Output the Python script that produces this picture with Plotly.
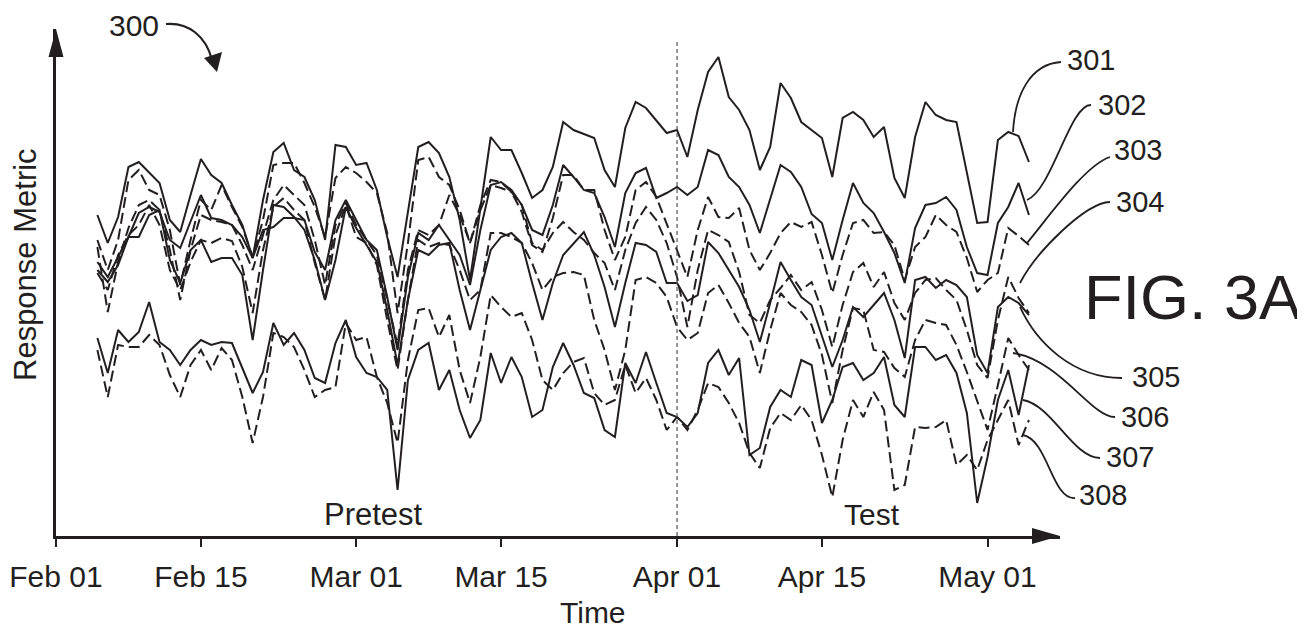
import plotly.graph_objects as go
import pandas as pd

# ---------------- data (screen-offset readings, larger = lower) -------------
dates = pd.date_range("2020-02-05", "2020-05-05", freq="D")  # 91 daily points

r301 = [215, 243, 217, 167, 162, 172, 183, 220, 232, 195, 159,
        175, 183, 205, 225, 258, 200, 152, 143, 170, 177, 200,
        240, 145, 147, 165, 163, 190, 237, 277, 210, 147, 142, 153,
        177, 220, 280, 210, 137, 150, 150, 173, 198, 190, 167,
        122, 130, 134, 138, 170, 187, 128, 102, 108, 120, 133, 130,
        157, 110, 72, 57, 97, 110, 130, 170, 147, 83, 98, 122,
        130, 138, 177, 118, 112, 120, 137, 127, 178, 198, 137, 102,
        115, 120, 122, 172, 223, 222, 140, 132, 136, 162]
r302 = [262, 277, 257, 237, 213, 207, 212, 240, 248, 222, 195,
        218, 220, 225, 237, 258, 230, 227, 218, 218, 220, 252,
        270, 220, 200, 220, 240, 250, 297, 350, 277, 233, 240, 225,
        240, 255, 285, 230, 185, 182, 190, 205, 230, 235, 205,
        165, 177, 190, 193, 217, 247, 193, 173, 168, 198, 193, 187,
        195, 187, 150, 155, 177, 187, 205, 233, 200, 165, 172, 187,
        214, 223, 260, 220, 183, 203, 213, 232, 253, 283, 228, 205,
        203, 197, 210, 247, 273, 275, 223, 207, 183, 215]
r303 = [240, 270, 240, 180, 170, 190, 195, 230, 285, 240, 200,
        210, 185, 207, 227, 257, 220, 165, 163, 163, 183, 207,
        237, 178, 167, 173, 182, 193, 233, 313, 243, 160, 157, 177,
        185, 210, 243, 205, 180, 182, 192, 212, 245, 252, 218,
        175, 175, 190, 190, 230, 260, 237, 190, 182, 197, 223, 250,
        277, 230, 197, 217, 218, 208, 250, 270, 253, 233, 222, 227,
        222, 255, 293, 255, 223, 220, 233, 232, 245, 280, 247, 237,
        215, 225, 232, 258, 292, 280, 273, 228, 236, 245]
r304 = [247, 312, 262, 228, 205, 200, 210, 250, 300, 250, 215,
        220, 222, 225, 245, 270, 235, 200, 185, 195, 205, 240,
        285, 225, 203, 225, 240, 255, 300, 345, 270, 230, 235, 225,
        195, 215, 243, 210, 185, 188, 192, 205, 243, 250, 233,
        222, 232, 240, 253, 263, 290, 250, 223, 207, 220, 243, 277,
        327, 270, 230, 235, 242, 272, 315, 323, 300, 288, 275, 290,
        282, 310, 347, 305, 272, 263, 287, 272, 303, 320, 293, 280,
        278, 290, 300, 330, 365, 378, 320, 277, 298, 313]
r305 = [270, 282, 265, 237, 237, 215, 210, 260, 283, 250, 240,
        262, 258, 258, 275, 340, 270, 205, 207, 217, 230, 260,
        300, 260, 207, 228, 245, 262, 310, 365, 300, 250, 255, 245,
        243, 290, 330, 290, 250, 237, 233, 243, 283, 320, 283,
        255, 243, 232, 255, 287, 327, 283, 243, 245, 252, 283, 283,
        301, 295, 242, 253, 270, 287, 310, 342, 303, 262, 280, 297,
        305, 335, 367, 340, 307, 317, 305, 293, 320, 358, 280, 277,
        288, 280, 285, 297, 355, 373, 307, 297, 303, 315]
r306 = [273, 290, 255, 235, 225, 205, 225, 270, 290, 262, 240,
        243, 238, 241, 267, 313, 250, 207, 198, 210, 220, 263,
        300, 235, 205, 237, 243, 265, 320, 370, 300, 240, 247, 243,
        245, 270, 300, 290, 233, 233, 237, 243, 263, 290, 277,
        273, 272, 275, 320, 350, 390, 350, 280, 277, 283, 297, 327,
        340, 333, 293, 285, 303, 323, 337, 373, 330, 293, 305, 312,
        325, 355, 403, 350, 308, 310, 350, 352, 368, 377, 340, 320,
        323, 325, 345, 372, 400, 430, 385, 338, 355, 370]
r307 = [338, 373, 330, 342, 332, 302, 342, 350, 365, 350, 340,
        345, 342, 343, 368, 393, 372, 323, 345, 333, 350, 378,
        383, 343, 320, 357, 373, 377, 390, 490, 380, 350, 343, 390,
        370, 410, 438, 420, 353, 383, 357, 377, 417, 410, 367,
        343, 365, 393, 398, 430, 437, 363, 383, 352, 383, 413, 417,
        427, 413, 363, 350, 375, 358, 455, 448, 407, 390, 397, 360,
        365, 423, 400, 367, 363, 380, 373, 357, 405, 417, 347, 347,
        360, 355, 373, 413, 503, 457, 400, 370, 415, 365]
r308 = [350, 397, 345, 347, 347, 335, 345, 375, 397, 365, 350,
        370, 348, 360, 397, 443, 397, 333, 337, 347, 370, 397,
        390, 387, 323, 340, 337, 377, 403, 443, 360, 310, 308, 337,
        315, 370, 403, 357, 295, 307, 317, 313, 340, 380, 390,
        373, 362, 358, 393, 405, 400, 365, 393, 378, 400, 430, 417,
        430, 410, 383, 387, 403, 423, 453, 468, 428, 413, 420, 405,
        420, 455, 497, 440, 400, 417, 392, 410, 490, 485, 427, 428,
        427, 420, 465, 455, 470, 440, 420, 400, 445, 420]

series_names = ["301", "302", "303", "304", "305", "306", "307", "308"]
series_reads = [r301, r302, r303, r304, r305, r306, r307, r308]
series_dash = ["solid", "solid", "dash", "dash", "solid", "dash", "solid", "dash"]

tick_dates = ["2020-02-01", "2020-02-15", "2020-03-01", "2020-03-15",
              "2020-04-01", "2020-04-15", "2020-05-01"]
tick_labels = ["Feb 01", "Feb 15", "Mar 01", "Mar 15", "Apr 01", "Apr 15", "May 01"]

# ---------------- geometry (reference-pixel based; page body adds an 8px offset) ----------------
OFF = 8
W, H = 1305 - OFF, 631 - OFF
AX_L, AX_R, AX_T, AX_B = 56, 1060, 29, 536      # axis frame in window pixels
L, T = AX_L - OFF, AX_T - OFF
R, B = W - (AX_R - OFF), H - (AX_B - OFF)
PW, PH = AX_R - AX_L, AX_B - AX_T
INK = "#231f20"
FONT = "Liberation Sans, Arial, sans-serif"


def px(x):
    return (x - AX_L) / PW


def py(y):
    return (AX_B - y) / PH


def P(x, y):
    return f"{px(x):.5f},{py(y):.5f}"


fig = go.Figure()
for name, rd, dsh in zip(series_names, series_reads, series_dash):
    fig.add_trace(go.Scatter(
        x=dates, y=[AX_B - v for v in rd], mode="lines", name=name,
        line=dict(color=INK, width=2.0, dash=("11px,5px" if dsh == "dash" else "solid")),
        hoverinfo="skip", showlegend=False))

shapes = []
# axis arrowheads
shapes.append(dict(type="path", xref="paper", yref="paper", line=dict(width=0), fillcolor=INK,
                   path=f"M {P(48.5, 57)} L {P(56, 29)} L {P(63.5, 57)} Z"))
shapes.append(dict(type="path", xref="paper", yref="paper", line=dict(width=0), fillcolor=INK,
                   path=f"M {P(1032, 528)} L {P(1060, 536)} L {P(1032, 544)} Z"))
# pretest / test divider
shapes.append(dict(type="line", xref="x", yref="paper", x0="2020-04-01", x1="2020-04-01",
                   y0=py(536), y1=py(40), line=dict(color="#555555", width=1.2, dash="4px,3px")))
# "300" curved arrow
shapes.append(dict(type="path", xref="paper", yref="paper", line=dict(color=INK, width=2.2),
                   path=f"M {P(166, 24)} C {P(188, 22)} {P(206, 36)} {P(212, 60)}"))
shapes.append(dict(type="path", xref="paper", yref="paper", line=dict(width=0), fillcolor=INK,
                   path=f"M {P(204, 58)} L {P(217, 72)} L {P(222, 52)} Z"))
# leader curves for the reference numerals
leaders = [
    ((1061, 62), (1030, 64), (1015, 95), (1013, 132)),
    ((1091, 105), (1070, 104), (1052, 190), (1027, 200)),
    ((1110, 157), (1085, 165), (1048, 218), (1027, 243)),
    ((1110, 202), (1085, 203), (1036, 252), (1020, 283)),
    ((1122, 378), (1072, 378), (1036, 342), (1020, 307)),
    ((1115, 417), (1092, 418), (1060, 360), (1013, 353)),
    ((1100, 458), (1073, 458), (1052, 405), (1023, 400)),
    ((1075, 498), (1052, 500), (1048, 440), (1023, 435)),
]
for a, b, c, d in leaders:
    shapes.append(dict(type="path", xref="paper", yref="paper", line=dict(color=INK, width=1.8),
                       path=f"M {P(*a)} C {P(*b)} {P(*c)} {P(*d)}"))

annotations = []


def txt(s, x, y, size, angle=0, yanchor="middle"):
    annotations.append(dict(text=s, x=px(x), y=py(y), xref="paper", yref="paper",
                            showarrow=False, xanchor="center", yanchor=yanchor,
                            textangle=angle, font=dict(family=FONT, size=size, color=INK)))


txt("300", 134, 26, 30)
txt("Response Metric", 25, 265, 31, -90)
txt("Time", 593, 631, 30, yanchor="bottom")
txt("Pretest", 373, 514, 31)
txt("Test", 872, 514, 30)
txt("FIG. 3A", 1192, 297, 63)
label_pos = [(1091, 60), (1122, 105), (1138, 150), (1140, 202),
             (1156, 377), (1145, 417), (1130, 457), (1103, 495)]
for name, (x, y) in zip(series_names, label_pos):
    txt(name, x, y, 29)

fig.update_layout(
    width=W, height=H, margin=dict(l=L, r=R, t=T, b=B, autoexpand=False),
    paper_bgcolor="white", plot_bgcolor="white", showlegend=False,
    shapes=shapes, annotations=annotations,
    xaxis=dict(type="date", range=["2020-02-01", "2020-05-08"], tickvals=tick_dates,
               ticktext=tick_labels, ticks="outside", ticklen=8, tickwidth=1.5, tickcolor=INK,
               showline=True, linewidth=2.5, linecolor=INK, showgrid=False, zeroline=False,
               tickfont=dict(family=FONT, size=30, color=INK), ticklabelstandoff=4),
    yaxis=dict(range=[0, PH], showline=True, linewidth=2.5, linecolor=INK, showgrid=False,
               zeroline=False, showticklabels=False, ticks=""),
)

fig.write_html("out.html")
